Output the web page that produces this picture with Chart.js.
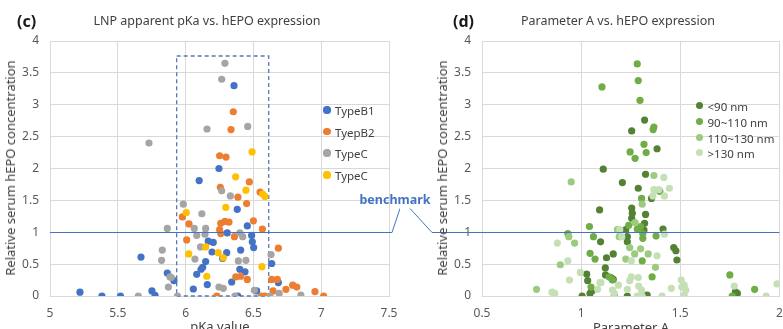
<!DOCTYPE html>
<html><head><meta charset="utf-8">
<script src="https://cdn.jsdelivr.net/npm/chart.js@4/dist/chart.umd.min.js"></script>
<style>
html,body{margin:0;padding:0;background:#fff}
body{width:783px;height:329px;overflow:hidden;position:relative;font-family:"Noto Sans",sans-serif}
canvas{position:absolute;top:0}
.t{position:absolute;white-space:nowrap;color:#595959}
</style></head><body>
<canvas id="cc" width="400" height="329" style="left:0;width:400px;height:329px"></canvas>
<canvas id="cd" width="383" height="329" style="left:400px;width:383px;height:329px"></canvas>
<script>
// ---------- Panel (c) data: LNP apparent pKa vs relative hEPO ----------
const typeB1_pKa = [5.221,5.383,5.52,5.752,5.775,5.671,5.865,5.914,6.057,6.082,6.10,6.246,6.357,6.381,6.307,6.455,6.487,6.167,6.204,6.492,6.502,6.195,6.303,6.406,6.273,6.148,6.635,6.126,6.114,6.40,6.438,6.34,6.16,6.684,6.524,6.385];
const typeB1_hEPO = [0.06,0,0,0.08,0.01,0.61,0.36,0.24,0.11,0.34,1.81,2.00,3.30,1.36,0.99,1.10,0.95,0.86,0.84,0.85,0.76,0.69,0.68,0.72,0.59,0.54,0.51,0.45,0.42,0.42,0.38,0.22,0.18,0.21,0.08,0];
const typeB2_pKa = [6.352,6.335,6.251,6.298,6.47,6.256,6.386,6.549,6.45,5.976,6.025,6.259,6.29,6.32,6.251,6.5,6.566,6.259,6.36,6.008,6.684,6.37,6.406,6.455,6.635,6.676,6.74,6.79,6.82,6.645,6.954,7.018,6.23,6.56,6.585];
const typeB2_hEPO = [2.89,2.61,2.20,2.18,1.79,1.705,1.55,1.63,1.45,1.24,1.13,1.14,1.17,1.16,1.04,1.18,1.05,0.98,0.93,0.88,0.75,0.30,0.31,0.26,0.26,0.26,0.105,0.17,0.14,0.08,0.07,0,0,0,0];
const typeCgray_pKa = [5.73,6.29,6.266,6.158,6.458,6.266,6.33,5.983,6.12,6.064,6.148,5.865,6.082,6.143,6.40,6.421,6.11,5.828,5.823,6.069,6.389,6.445,6.63,5.885,5.895,5.873,6.246,6.278,6.69,6.507,6.85,5.94,6.364,6.622,5.651];
const typeCgray_hEPO = [2.40,3.65,3.40,2.62,2.66,1.65,1.57,1.44,1.29,1.06,1.06,1.06,0.95,0.97,0.99,0.93,0.77,0.72,0.56,0.58,0.55,0.56,0.65,0.30,0.29,0.14,0.14,0.12,0.04,0.09,0.015,0,0,0,0];
const typeCyellow_pKa = [6.49,6.369,6.445,6.568,6.585,6.005,6.296,6.148,6.241,6.023,6.278,6.563,6.156];
const typeCyellow_hEPO = [2.26,1.87,1.66,1.60,1.56,1.31,1.39,0.77,0.68,0.66,0.60,0.46,0.31];
const seriesNamesC = ["TypeB1","TyepB2","TypeC","TypeC"];
const seriesColorsC = ["#4472C4","#ED7D31","#A5A5A5","#FFC000"];

// ---------- Panel (d) data: Parameter A vs relative hEPO ----------
const lt90_A = [1.1115,1.32,1.255,1.383,1.325,1.208,1.288,1.355,1.093,1.255,1.258,1.325,1.255,1.32,1.225,1.233,1.317,1.413,1.098,1.233,1.467,1.478,1.483,1.128,1.162,1.122,1.123,1.15,1.162,1.028,1.033,1.055,1.045,1.005,1.167,1.233,1.333,1.778,1.788];
const lt90_hEPO = [1.99,2.76,2.59,2.31,1.91,1.78,1.69,1.53,1.35,1.38,1.30,1.28,1.22,1.14,1.04,0.93,1.035,1.05,0.85,0.85,0.76,0.71,0.565,0.60,0.66,0.44,0.33,0.29,0.26,0.345,0.24,0.083,0.04,0,0,0,0.015,0.067,0.04];
const s90_110_A = [1.105,1.283,1.288,1.297,1.367,1.363,1.317,1.247,1.272,1.328,1.305,1.397,1.24,1.283,1.30,1.311,1.311,1.378,1.308,1.358,1.042,1.062,0.933,1.045,1.07,1.05,1.142,1.158,1.75,1.762,1.875];
const s90_110_hEPO = [3.28,3.64,3.38,3.07,2.65,2.61,2.38,2.26,2.16,2.25,1.53,1.64,1.11,1.05,1.09,0.98,0.905,0.94,0.55,0.30,1.09,0.93,0.98,0.67,0.58,0.14,0.30,0.25,0.33,0,0.105];
const s110_130_A = [0.95,1.367,1.308,1.272,1.245,1.30,1.27,1.338,1.225,1.375,0.938,0.967,0.895,0.775,1.183,1.192];
const s110_130_hEPO = [1.79,1.89,1.44,1.15,0.76,0.74,0.66,0.66,0.58,0.45,0.93,0.83,0.49,0.105,1.04,0.93];
const gt130_A = [1.417,1.367,1.392,1.445,1.362,1.42,1.195,1.205,1.42,1.383,1.253,1.253,1.245,1.288,1.188,1.10,1.233,1.29,1.305,1.158,1.167,1.283,1.308,1.408,1.455,1.505,1.52,1.508,1.528,1.52,1.772,1.933,1.988,0.88,0.933,0.996,0.941,0.853,0.867,1.083,1.095];
const gt130_hEPO = [1.86,1.67,1.67,1.69,1.57,1.57,1.04,0.93,0.97,0.63,0.55,0.30,0.24,0.29,0.17,0.21,0.105,0.157,0.094,0.094,0.04,0,0,0,0.12,0.25,0.17,0.14,0.094,0.015,0.157,0,0.19,0.83,0.55,0.37,0.25,0.06,0.04,0.105,0.21];
const seriesNamesD = ["<90 nm","90~110 nm","110~130 nm",">130 nm"];
const seriesColorsD = ["#548235","#70AD47","#9CCB80","#C5E0B4"];

// ---------- axes / annotations ----------
const yTicks = [0,0.5,1,1.5,2,2.5,3,3.5,4];
const xTicksC = [5,5.5,6,6.5,7,7.5];
const xTicksD = [0.5,1,1.5,2];
const benchmarkValue = 1;
const boxPKa = [5.934, 6.613];   // dashed window on pKa axis
const boxHEPO = [0, 3.765];

function pts(xs, ys){ return xs.map((x,i)=>({x:x, y:ys[i]})); }

function datasets(names, colors, xsArr, ysArr){
  return names.map((n,i)=>({
    label:n, data:pts(xsArr[i], ysArr[i]),
    backgroundColor:colors[i], borderWidth:0, pointRadius:3.6, pointHoverRadius:3.6,
    order: names.length - i
  }));
}

const GRID = "#d9d9d9";
const TICKFONT = {family:"'Noto Sans', sans-serif", size:12};

function scaleCfg(ticksArr, min, max, isY){
  return {
    type:'linear', min:min, max:max,
    afterBuildTicks: s => { s.ticks = ticksArr.map(v=>({value:v})); },
    ticks:{ color:'#595959', font:TICKFONT, padding: isY?11:10, callback:v=>String(v), autoSkip:false, maxRotation:0 },
    grid:{ color:GRID, lineWidth:1, drawTicks:false },
    border:{ color:GRID, width:1 },
    afterFit: s => {
      if (isY){ s.width = 50; s.paddingTop = 0; s.paddingBottom = 0; }
      else { s.height = 33; s.paddingLeft = 0; s.paddingRight = 0; }
    }
  };
}

const boxPlugin = {
  id:'box',
  beforeDatasetsDraw(chart){
    const {ctx, scales:{x,y}} = chart;
    const l = x.getPixelForValue(boxPKa[0]), r = x.getPixelForValue(boxPKa[1]);
    const t = y.getPixelForValue(boxHEPO[1]), b = y.getPixelForValue(boxHEPO[0]);
    ctx.save();
    ctx.strokeStyle = '#5A78B4'; ctx.lineWidth = 1.3; ctx.setLineDash([4,3]);
    ctx.strokeRect(l, t, r-l, b-t);
    ctx.restore();
  }
};

const benchC = {
  id:'benchC',
  afterDatasetsDraw(chart){
    const {ctx, chartArea, scales:{y}} = chart;
    const yy = Math.round(y.getPixelForValue(benchmarkValue)) + 0.5;
    ctx.save();
    ctx.strokeStyle = '#4472C4'; ctx.lineWidth = 1;
    ctx.beginPath();
    ctx.moveTo(chartArea.left, yy);
    ctx.lineTo(chartArea.right + 3, yy);
    ctx.lineTo(chartArea.right + 11, yy - 24);
    ctx.stroke();
    ctx.restore();
  }
};
const benchD = {
  id:'benchD',
  afterDatasetsDraw(chart){
    const {ctx, chartArea, scales:{y}} = chart;
    const yy = Math.round(y.getPixelForValue(benchmarkValue)) + 0.5;
    ctx.save();
    ctx.strokeStyle = '#4472C4'; ctx.lineWidth = 1;
    ctx.beginPath();
    ctx.moveTo(chartArea.left - 72, yy - 24);
    ctx.lineTo(chartArea.left - 50, yy);
    ctx.lineTo(chartArea.right, yy);
    ctx.stroke();
    ctx.restore();
  }
};

function makeChart(id, ds, xTicks, pad, plugins){
  return new Chart(document.getElementById(id), {
    type:'scatter',
    data:{ datasets: ds },
    options:{
      responsive:false, animation:false, events:[],
      layout:{ padding: pad },
      plugins:{ legend:{display:false}, tooltip:{enabled:false}, title:{display:false} },
      scales:{
        x: scaleCfg(xTicks, xTicks[0], xTicks[xTicks.length-1], false),
        y: scaleCfg(yTicks, yTicks[0], yTicks[yTicks.length-1], true)
      }
    },
    plugins: plugins
  });
}

makeChart('cc',
  datasets(seriesNamesC, seriesColorsC,
    [typeB1_pKa, typeB2_pKa, typeCgray_pKa, typeCyellow_pKa],
    [typeB1_hEPO, typeB2_hEPO, typeCgray_hEPO, typeCyellow_hEPO]),
  xTicksC, {left:0, right:11, top:41, bottom:0}, [boxPlugin, benchC]);

makeChart('cd',
  datasets(seriesNamesD, seriesColorsD,
    [lt90_A, s90_110_A, s110_130_A, gt130_A],
    [lt90_hEPO, s90_110_hEPO, s110_130_hEPO, gt130_hEPO]),
  xTicksD, {left:32, right:1, top:41, bottom:0}, [benchD]);

// ---------- text elements ----------
function addText(txt, css){
  const d = document.createElement('div');
  d.className = 't'; d.textContent = txt;
  Object.assign(d.style, css);
  document.body.appendChild(d);
  return d;
}
addText('(c)', {left:'17px', top:'10px', fontSize:'16px', fontWeight:'bold', color:'#1a1a1a'});
addText('(d)', {left:'453px', top:'10px', fontSize:'16px', fontWeight:'bold', color:'#1a1a1a'});
addText('LNP apparent pKa vs. hEPO expression', {left:'207px', top:'20px', fontSize:'12.5px', color:'#404040', transform:'translate(-50%,-50%)'});
addText('Parameter A vs. hEPO expression', {left:'618px', top:'20px', fontSize:'12.5px', color:'#404040', transform:'translate(-50%,-50%)'});
addText('Relative serum hEPO concentration', {left:'10px', top:'168px', fontSize:'13px', color:'#404040', transform:'translate(-50%,-50%) rotate(-90deg)'});
addText('Relative serum hEPO concentration', {left:'442px', top:'168px', fontSize:'13px', color:'#404040', transform:'translate(-50%,-50%) rotate(-90deg)'});
addText('pKa value', {left:'220px', top:'326px', fontSize:'13px', color:'#404040', transform:'translate(-50%,-50%)'});
addText('Parameter A', {left:'631px', top:'327px', fontSize:'13px', color:'#404040', transform:'translate(-50%,-50%)'});
addText('benchmark', {left:'395px', top:'199px', fontSize:'12.5px', fontWeight:'bold', color:'#4472C4', transform:'translate(-50%,-50%)'});

function legend(names, colors, x, ys, fs){
  names.forEach((n,i)=>{
    const dot = document.createElement('div');
    Object.assign(dot.style, {position:'absolute', left:(x-3.6)+'px', top:(ys[i]-3.6)+'px', width:'7.2px', height:'7.2px', borderRadius:'50%', background:colors[i]});
    document.body.appendChild(dot);
    addText(n, {left:(x+8)+'px', top:ys[i]+'px', fontSize:fs, color:'#404040', transform:'translateY(-50%)'});
  });
}
legend(seriesNamesC, seriesColorsC, 327, [110,131.5,153,175], '11.5px');
legend(seriesNamesD, seriesColorsD, 699.5, [105.7,121.7,137.7,152.7], '11.5px');
</script>
</body></html>
